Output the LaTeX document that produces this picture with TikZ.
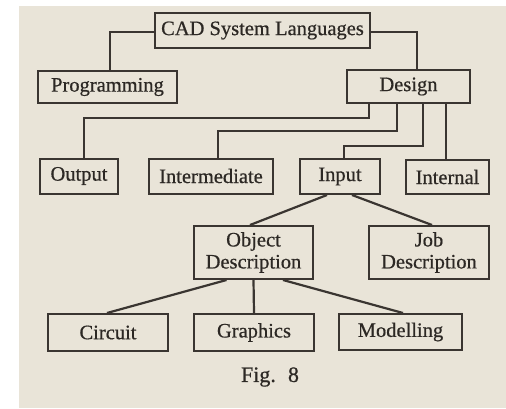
\documentclass[tikz,border=0pt]{standalone}
\usepackage{fontspec}
\setmainfont{Liberation Serif}
\newfontfamily\heavyserif{Liberation Serif}[FakeBold=0.6]
\definecolor{paper}{HTML}{E9E4D8}
\definecolor{ink}{HTML}{3A3531}
\definecolor{txt}{HTML}{2C2824}
\begin{document}
\begin{tikzpicture}[x=1pt,y=-1pt,
  box/.style={draw=ink, line width=2pt, inner sep=0pt, align=center,
    text=txt, font=\heavyserif\fontsize{20.5}{22}\selectfont},
  link/.style={draw=ink, line width=2.2pt}]
\useasboundingbox (0,0) rectangle (506,408);
\fill[white] (0,0) rectangle (506,408);
\fill[paper] (19,6) rectangle (506,408);

\node[box, minimum width=215pt, minimum height=35pt] (cad) at (262.5,30.5) {CAD System Languages};
\node[box, minimum width=139pt, minimum height=32pt] (prog) at (107.5,87) {Programming};
\node[box, minimum width=123pt, minimum height=33pt] (design) at (408.5,86.5) {Design};
\node[box, minimum width=78pt, minimum height=35pt] (output) at (79,176) {Output};
\node[box, minimum width=124pt, minimum height=35pt] (inter) at (211,176) {Intermediate};
\node[box, minimum width=80pt, minimum height=35pt] (input) at (340,176.5) {Input};
\node[box, minimum width=83pt, minimum height=34pt] (internal) at (447.5,177) {Internal};
\node[box, minimum width=119pt, minimum height=53pt] (obj) at (253.5,252.5) {Object\\Description};
\node[box, minimum width=120pt, minimum height=53pt] (job) at (429,252.5) {Job\\Description};
\node[box, minimum width=120pt, minimum height=37pt] (circuit) at (108,332.5) {Circuit};
\node[box, minimum width=120pt, minimum height=37pt] (graphics) at (254,332.5) {Graphics};
\node[box, minimum width=123pt, minimum height=36pt] (model) at (400.5,332) {Modelling};
\node[text=txt, font=\heavyserif\fontsize{22}{24}\selectfont] (fig) at (270,377) {Fig.\hspace{0.55em}8};

% top level
\draw[link] ([yshift=-1.5pt]cad.west) -| ([xshift=2.5pt]prog.north);
\draw[link] ([yshift=-1.5pt]cad.east) -| ([xshift=8.5pt]design.north);

% design children
\draw[link] ([xshift=-39.5pt]design.south) |- ([xshift=5pt,yshift=39.5pt]output.north) -- ([xshift=5pt]output.north);
\draw[link] ([xshift=-11.5pt]design.south) |- ([xshift=7pt,yshift=26.5pt]inter.north) -- ([xshift=7pt]inter.north);
\draw[link] ([xshift=14.5pt]design.south) |- ([xshift=4pt,yshift=12pt]input.north) -- ([xshift=4pt]input.north);
\draw[link] ([xshift=37.5pt]design.south) -- ([xshift=-1.5pt]internal.north);

% input children
\draw[link] ([xshift=-13pt]input.south) -- ([xshift=-3.5pt]obj.north);
\draw[link] ([xshift=12pt]input.south) -- ([xshift=3pt]job.north);

% object children
\draw[link] ([xshift=-27pt]obj.south) -- ([xshift=-1pt]circuit.north);
\draw[link] (obj.south) -- (graphics.north);
\draw[link] ([xshift=29.5pt]obj.south) -- ([xshift=2.5pt]model.north);
\end{tikzpicture}
\end{document}
